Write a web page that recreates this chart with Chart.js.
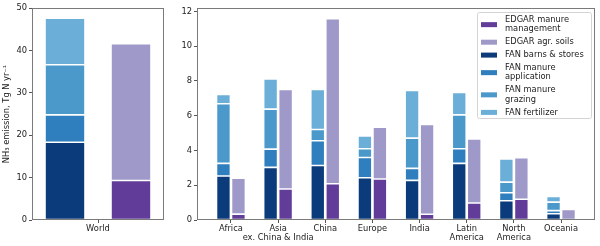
<!DOCTYPE html>
<html>
<head>
<meta charset="utf-8">
<script src="https://cdn.jsdelivr.net/npm/chart.js@4/dist/chart.umd.min.js"></script>
<style>
body { margin: 0; background: #fff; }
#wrap { position: relative; width: 600px; height: 246px; }
#worldChart { position: absolute; left: 0; top: 0; }
#regionChart { position: absolute; left: 180px; top: 0; }
</style>
</head>
<body>
<div id="wrap">
  <canvas id="worldChart" width="180" height="246"></canvas>
  <canvas id="regionChart" width="420" height="246"></canvas>
</div>
<script>
// world totals (Tg N / yr), stacked segments
var worldLabels = ['World'];
var worldFanBarns = [18.35];
var worldFanApplication = [6.45];
var worldFanGrazing = [11.8];
var worldFanFertilizer = [11.0];
var worldEdgarManure = [9.3];
var worldEdgarSoils = [32.3];
var worldTicks = [0, 10, 20, 30, 40, 50];

// regions
var regions = ['Africa', ['Asia', 'ex. China & India'], 'China', 'Europe', 'India',
               ['Latin', 'America'], ['North', 'America'], 'Oceania'];
var fanBarns       = [2.53, 3.03, 3.14, 2.43, 2.28, 3.26, 1.11, 0.36];
var fanApplication = [0.73, 1.05, 1.42, 1.17, 0.69, 0.84, 0.46, 0.18];
var fanGrazing     = [3.43, 2.30, 0.65, 0.50, 1.74, 1.95, 0.61, 0.49];
var fanFertilizer  = [0.53, 1.74, 2.30, 0.73, 2.74, 1.29, 1.33, 0.33];
var edgarManure    = [0.34, 1.78, 2.09, 2.36, 0.33, 0.98, 1.19, 0.03];
var edgarSoils     = [2.06, 5.73, 9.50, 2.98, 5.17, 3.68, 2.39, 0.58];
var regionTicks = [0, 2, 4, 6, 8, 10, 12];

var colManure = '#613d99';
var colSoils = '#9e99c8';
var colBarns = '#0b3b7b';
var colApplication = '#2f7ebd';
var colGrazing = '#4b98ca';
var colFertilizer = '#6baed7';

var legendItems = [
    { lines: ['EDGAR manure', 'management'], color: colManure },
    { lines: ['EDGAR agr. soils'], color: colSoils },
    { lines: ['FAN barns & stores'], color: colBarns },
    { lines: ['FAN manure', 'application'], color: colApplication },
    { lines: ['FAN manure', 'grazing'], color: colGrazing },
    { lines: ['FAN fertilizer'], color: colFertilizer }
];

var fontSize = 8.3;
Chart.defaults.font.family = "'DejaVu Sans', sans-serif";
Chart.defaults.font.size = fontSize;
Chart.defaults.color = '#222';

var framePlugin = {
    id: 'frame',
    afterDraw: function (chart) {
        var a = chart.chartArea, ctx = chart.ctx;
        ctx.save();
        ctx.strokeStyle = '#7a7a7a';
        ctx.lineWidth = 1;
        ctx.strokeRect(Math.round(a.left) + 0.5, Math.round(a.top) + 0.5,
                       Math.round(a.right - a.left) - 1, Math.round(a.bottom - a.top) - 1);
        ctx.restore();
    }
};

var legendPlugin = {
    id: 'boxLegend',
    afterDraw: function (chart) {
        var a = chart.chartArea, ctx = chart.ctx;
        var right = a.right - 4, top = a.top + 4;
        var left = right - 114, bottom = top + 106;
        ctx.save();
        ctx.beginPath();
        ctx.roundRect(left + 0.5, top + 0.5, right - left, bottom - top, 2);
        ctx.fillStyle = 'rgba(255,255,255,0.85)';
        ctx.fill();
        ctx.strokeStyle = '#d4d4d4';
        ctx.lineWidth = 1;
        ctx.stroke();
        ctx.font = fontSize + "px 'DejaVu Sans', sans-serif";
        ctx.textBaseline = 'middle';
        ctx.fillStyle = '#222';
        var lineH = 9.3, y = top + 8;
        legendItems.forEach(function (item) {
            var n = item.lines.length;
            var cy = y + (n - 1) * lineH / 2;
            ctx.fillStyle = item.color;
            ctx.fillRect(left + 4, cy - 2.5, 16, 5);
            ctx.fillStyle = '#222';
            item.lines.forEach(function (t, k) {
                ctx.fillText(t, left + 28, y + k * lineH);
            });
            y += n * lineH + 3.6;
        });
        ctx.restore();
    }
};

function barSet(label, data, color, stack) {
    return {
        label: label,
        data: data,
        backgroundColor: color,
        borderColor: 'rgba(255,255,255,0.3)',
        borderWidth: 0.8,
        borderSkipped: false,
        stack: stack
    };
}

function toPoints(arr) {
    return arr.map(function (v, i) { return { x: i, y: v }; });
}

new Chart(document.getElementById('worldChart'), {
    type: 'bar',
    data: {
        labels: worldLabels,
        datasets: [
            barSet('FAN barns & stores', worldFanBarns, colBarns, 'FAN'),
            barSet('FAN manure application', worldFanApplication, colApplication, 'FAN'),
            barSet('FAN manure grazing', worldFanGrazing, colGrazing, 'FAN'),
            barSet('FAN fertilizer', worldFanFertilizer, colFertilizer, 'FAN'),
            barSet('EDGAR manure management', worldEdgarManure, colManure, 'EDGAR'),
            barSet('EDGAR agr. soils', worldEdgarSoils, colSoils, 'EDGAR')
        ]
    },
    options: {
        responsive: false,
        animation: false,
        events: [],
        categoryPercentage: 1.0,
        barPercentage: 0.606,
        layout: { padding: { left: 0, right: 16, top: 8, bottom: 0 } },
        plugins: { legend: { display: false }, tooltip: { enabled: false } },
        scales: {
            x: {
                stacked: true,
                offset: true,
                grid: { offset: false, drawOnChartArea: false, tickLength: 3, tickColor: '#555' },
                border: { display: false },
                ticks: { padding: 1, maxRotation: 0, font: { lineHeight: 1.13 } },
                afterFit: function (s) { s.height = 26; }
            },
            y: {
                stacked: true,
                min: 0,
                max: 50,
                afterBuildTicks: function (s) { s.ticks = worldTicks.map(function (v) { return { value: v }; }); },
                grid: { drawOnChartArea: false, tickLength: 3, tickColor: '#555' },
                border: { display: false },
                ticks: { padding: 2 },
                title: {
                    display: true,
                    text: 'NH₃ emission, Tg N yr⁻¹',
                    padding: { top: 2.5, bottom: 0 },
                    font: { size: fontSize, lineHeight: 1.13 }
                },
                afterFit: function (s) { s.width = 32; }
            }
        }
    },
    plugins: [framePlugin]
});

new Chart(document.getElementById('regionChart'), {
    type: 'bar',
    data: {
        datasets: [
            barSet('FAN barns & stores', toPoints(fanBarns), colBarns, 'FAN'),
            barSet('FAN manure application', toPoints(fanApplication), colApplication, 'FAN'),
            barSet('FAN manure grazing', toPoints(fanGrazing), colGrazing, 'FAN'),
            barSet('FAN fertilizer', toPoints(fanFertilizer), colFertilizer, 'FAN'),
            barSet('EDGAR manure management', toPoints(edgarManure), colManure, 'EDGAR'),
            barSet('EDGAR agr. soils', toPoints(edgarSoils), colSoils, 'EDGAR')
        ]
    },
    options: {
        responsive: false,
        animation: false,
        events: [],
        categoryPercentage: 0.636,
        barPercentage: 0.93,
        layout: { padding: { left: 0, right: 5, top: 8, bottom: 0 } },
        plugins: { legend: { display: false }, tooltip: { enabled: false } },
        scales: {
            x: {
                type: 'linear',
                stacked: true,
                offset: false,
                min: -0.72,
                max: 7.72,
                afterBuildTicks: function (s) { s.ticks = regions.map(function (r, i) { return { value: i }; }); },
                grid: { offset: false, drawOnChartArea: false, tickLength: 3, tickColor: '#555' },
                border: { display: false },
                ticks: {
                    padding: 1,
                    maxRotation: 0,
                    autoSkip: false,
                    font: { lineHeight: 1.13 },
                    callback: function (v) { return regions[v]; }
                },
                afterFit: function (s) { s.height = 26; }
            },
            y: {
                stacked: true,
                min: 0,
                max: 12.2,
                afterBuildTicks: function (s) { s.ticks = regionTicks.map(function (v) { return { value: v }; }); },
                grid: { drawOnChartArea: false, tickLength: 3, tickColor: '#555' },
                border: { display: false },
                ticks: { padding: 2 },
                afterFit: function (s) { s.width = 17; }
            }
        }
    },
    plugins: [framePlugin, legendPlugin]
});
</script>
</body>
</html>
